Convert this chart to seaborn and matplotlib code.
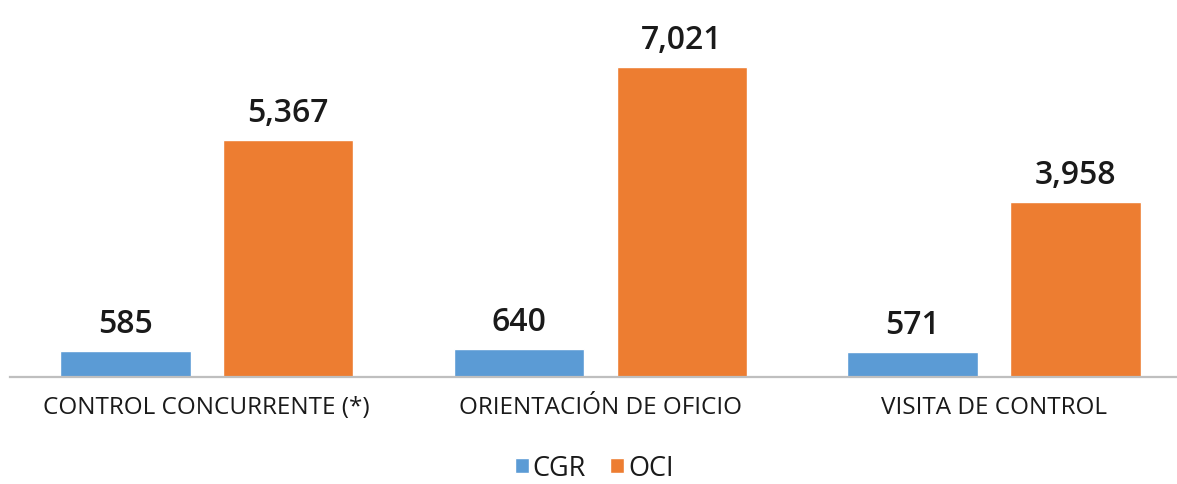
import matplotlib
matplotlib.use("Agg")
import matplotlib.pyplot as plt
import seaborn as sns
import pandas as pd

# datos
categorias = ["CONTROL CONCURRENTE (*)", "ORIENTACIÓN DE OFICIO", "VISITA DE CONTROL"]
series = ["CGR", "OCI"]
cgr = [585, 640, 571]
oci = [5367, 7021, 3958]
colores = ["#5B9BD5", "#ED7D31"]

df = pd.DataFrame({
    "categoria": categorias * 2,
    "serie": ["CGR"] * 3 + ["OCI"] * 3,
    "valor": cgr + oci,
})

sns.set_style("white")
plt.rcParams["font.family"] = ["Open Sans", "DejaVu Sans"]

fig = plt.figure(figsize=(11.77, 4.85), dpi=100)
ax = fig.add_axes([10 / 1177, 107 / 485, 1167 / 1177, 378 / 485])

sns.barplot(data=df, x="categoria", y="valor", hue="serie", palette=colores,
            saturation=1, width=0.828, gap=0.2, ax=ax, legend=True)

# etiquetas de valor sobre cada barra
for cont in ax.containers:
    ax.bar_label(cont, labels=[f"{v:,.0f}" for v in cont.datavalues],
                 padding=8, fontsize=23, fontweight="semibold", color="#1a1a1a")

ax.set_xlim(-0.5, 2.465)
ax.set_ylim(0, 8562)
ax.set_xlabel("")
ax.set_ylabel("")
ax.set_yticks([])
ax.tick_params(axis="x", length=0, pad=13, labelsize=17.5, labelcolor="#1a1a1a")
for s in ["top", "right", "left"]:
    ax.spines[s].set_visible(False)
ax.spines["bottom"].set_color("#BFBFBF")
ax.spines["bottom"].set_linewidth(1.6)

handles, labels = ax.get_legend_handles_labels()
ax.get_legend().remove()
fig.legend(handles, labels, loc="center", bbox_to_anchor=(0.505, 16 / 485), ncol=2,
           frameon=False, fontsize=19.5, handlelength=0.5, handleheight=0.5,
           handletextpad=0.15, columnspacing=0.9, labelcolor="#1a1a1a")

fig.savefig("out.png", dpi=100)
